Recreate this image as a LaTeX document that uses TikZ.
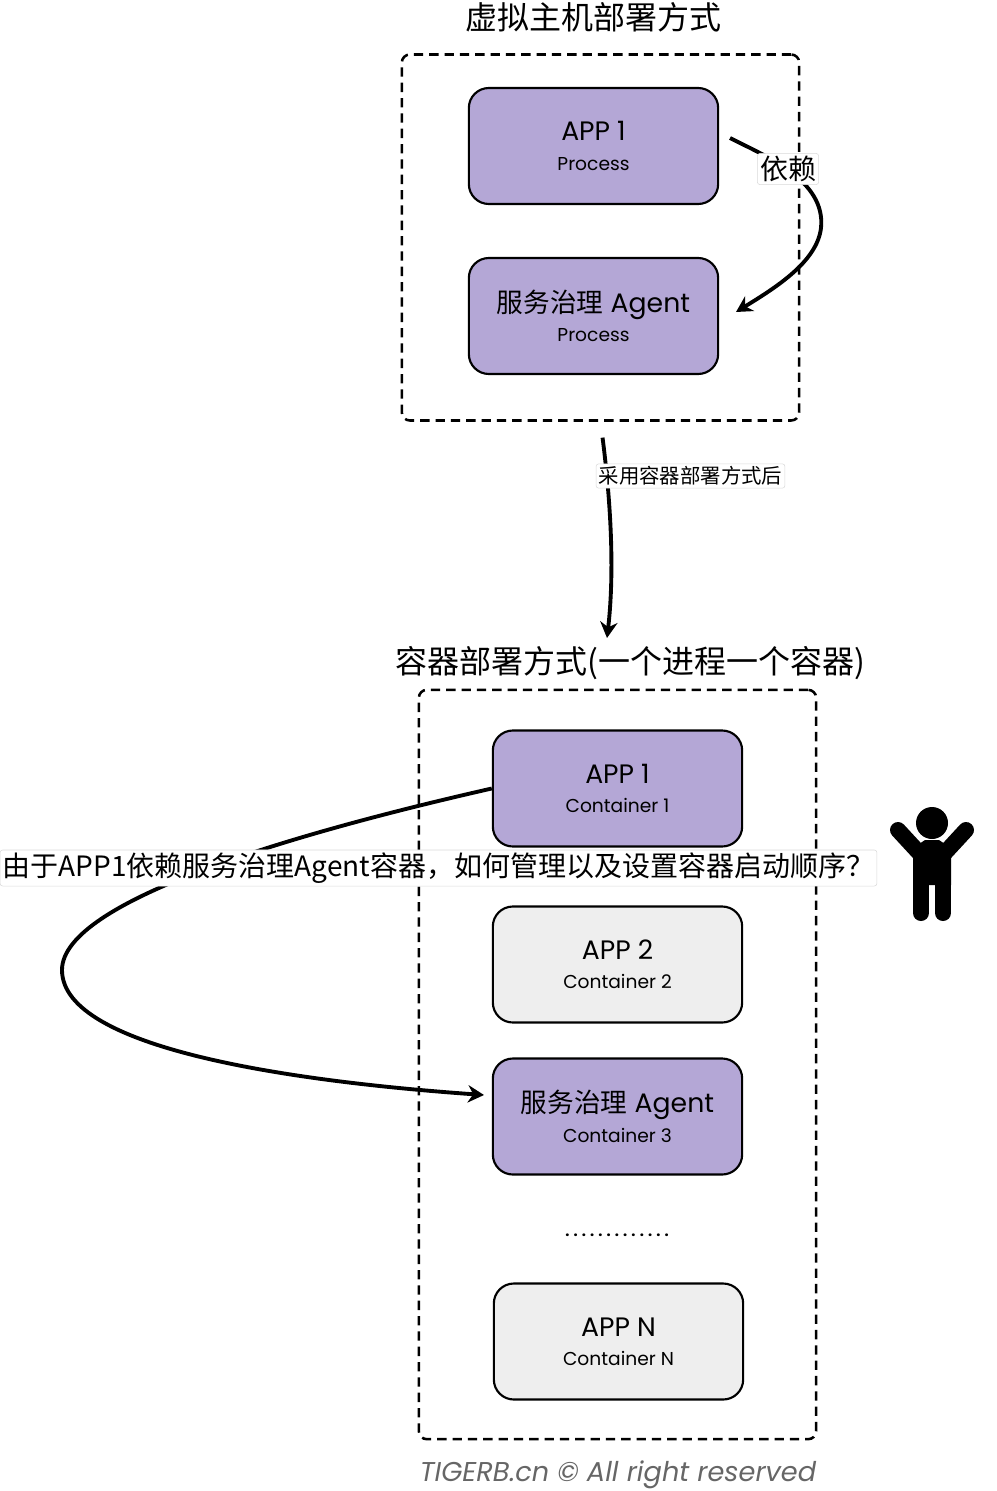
\documentclass[tikz,border=0pt]{standalone}
\usepackage{fontspec}
\setmainfont{Poppins}
\newfontfamily\cjk{Noto Sans CJK SC}
\newcommand{\subfont}{\fontsize{14}{16}\selectfont}
\usepackage{tikz}
\usetikzlibrary{arrows.meta}
\definecolor{appPurple}{HTML}{B4A7D6}
\definecolor{appGray}{HTML}{EEEEEE}
\tikzset{
	appbox/.style={draw=black,line width=1.6pt,rounded corners=15pt,minimum width=187pt,minimum height=87pt,align=center,inner sep=0pt,font=\fontsize{20}{21}\selectfont},
	purplebox/.style={appbox,fill=appPurple},
	graybox/.style={appbox,fill=appGray},
	groupbox/.style={draw=black,line width=1.9pt,dash pattern=on 7pt off 4.5pt,rounded corners=6pt,inner sep=0pt},
	titlelabel/.style={font=\cjk\fontsize{24}{27}\selectfont,inner sep=0pt},
	edgelabel/.style={draw=black!15,fill=white,rounded corners=2pt,inner sep=2pt,font=\cjk},
	link/.style={draw=black,line width=2.9pt,-{Stealth[length=12pt,width=13pt]}}
}
\begin{document}
\begin{tikzpicture}[x=0.75pt,y=-0.75pt]
	\useasboundingbox (0,0) rectangle (996,1491);
	% host deployment
	\node[titlelabel] (hostTitle) at (593,17) {虚拟主机部署方式};
	\node[groupbox,minimum width=298pt,minimum height=274.5pt] (hostGroup) at (600.5,237.5) {};
	\node[purplebox] (hostApp) at (593.5,146) {APP 1\\[1pt]{\subfont Process}};
	\node[purplebox] (hostAgent) at (593.5,316) {{\cjk 服务治理} Agent\\[1pt]{\subfont Process}};
	% container deployment
	\node[titlelabel] (containerTitle) at (630,663) {容器部署方式(一个进程一个容器)};
	\node[groupbox,minimum width=298pt,minimum height=562pt] (containerGroup) at (617.5,1064.5) {};
	\node[purplebox] (containerApp) at (617.5,788.5) {APP 1\\[1pt]{\subfont Container 1}};
	\node[graybox] (containerTwo) at (617.5,964.5) {APP 2\\[1pt]{\subfont Container 2}};
	\node[purplebox] (containerAgent) at (617.5,1116.5) {{\cjk 服务治理} Agent\\[1pt]{\subfont Container 3}};
	\node[inner sep=0pt,font=\bfseries\fontsize{11}{13}\selectfont] (containerDots) at (617,1235) {. . . . . . . . . . . . .};
	\node[graybox] (containerLast) at (618.5,1341.5) {APP N\\[1pt]{\subfont Container N}};
	% connectors
	\coordinate (dependStart) at (730,138);
	\coordinate (migrateEnd) at (607,638);
	\coordinate (bootEnd) at (484,1095);
	\draw[link] (dependStart) .. controls (765,156) and (826,180) .. (821,228) .. controls (817,262) and (775,288) .. (736,312);
	\draw[link,shorten <=12pt] (hostGroup.south) .. controls (608,480) and (616,560) .. (migrateEnd);
	\draw[link] (containerApp.west) .. controls (300,832) and (62,900) .. (62,970) .. controls (62,1050) and (300,1082) .. (bootEnd);
	\node[edgelabel,font=\cjk\fontsize{21}{24}\selectfont] (dependLabel) at (788,169) {依赖};
	\node[edgelabel,font=\cjk\fontsize{15.3}{18}\selectfont] (migrateLabel) at (690.5,476) {采用容器部署方式后};
	\node[edgelabel,font=\cjk\fontsize{21}{24}\selectfont] (bootLabel) at (438.5,868) {由于APP1依赖服务治理Agent容器，如何管理以及设置容器启动顺序？};
	% person
	\fill[black] (932,823) circle (12pt);
	\draw[black,line width=12pt,line cap=round] (898,830) -- (922,856);
	\draw[black,line width=12pt,line cap=round] (966,830) -- (942,856);
	\draw[black,line width=12pt,line cap=round] (921,875) -- (921,913);
	\draw[black,line width=12pt,line cap=round] (943,875) -- (943,913);
	\fill[black] (913,848) -- (925,840) -- (939,840) -- (951,848) -- (951,885) -- (913,885) -- cycle;
	% footer
	\node[inner sep=0pt,text=black!60,font=\itshape\fontsize{20.4}{23}\selectfont] (footerLabel) at (618,1475) {TIGERB.cn © All right reserved};
\end{tikzpicture}
\end{document}
